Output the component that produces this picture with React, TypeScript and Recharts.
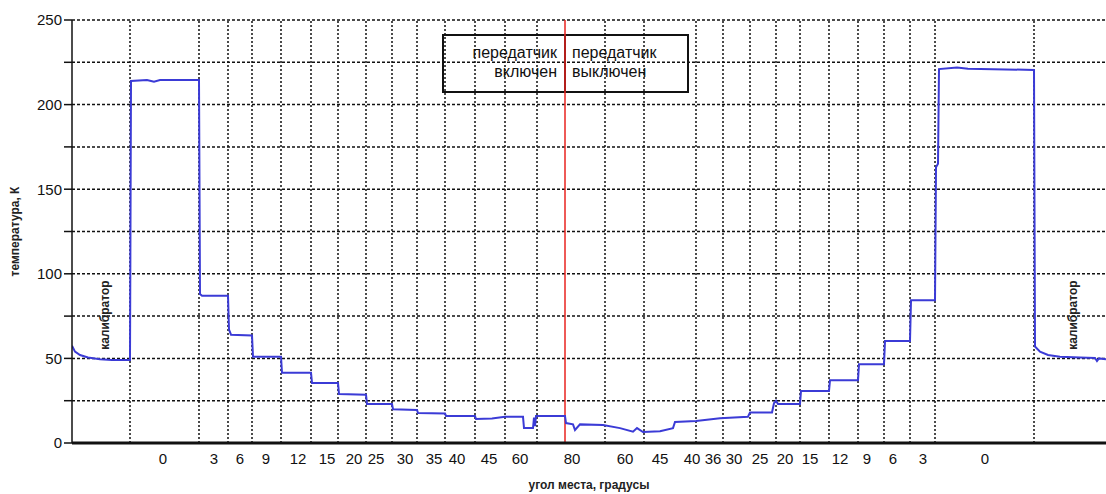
import React from 'react';
import { LineChart, Line, XAxis, YAxis, CartesianGrid, ReferenceLine, ReferenceArea, ReferenceDot } from 'recharts';

// scan position along the record (arbitrary units) and measured brightness temperature, K
const scanPos = [
  0, 3, 8, 16, 28, 40, 58,
  59, 75, 82, 88, 127,
  128, 130, 156,
  157, 159, 180,
  181, 209,
  210, 239,
  240, 266,
  267, 294,
  295, 320,
  321, 345,
  346, 373,
  374, 403,
  404, 420, 433, 451, 452, 461, 462, 463, 464, 493,
  494, 501, 503, 508, 531, 548, 561, 565, 571, 588, 601,
  603, 624, 648, 676,
  678, 700, 702, 704, 706, 728,
  729, 757,
  758, 786,
  787, 812,
  813, 838,
  839, 863,
  864, 866, 867, 885, 896, 962,
  963, 968, 976, 988, 1008, 1023, 1025, 1027, 1034,
];
const temperature = [
  57.5, 54, 52, 50.5, 49.5, 49, 49,
  214, 214.5, 213.5, 214.5, 214.5,
  88, 87, 87,
  67, 64, 63.5,
  51, 51,
  41.5, 41.5,
  35.5, 35.5,
  29, 28.5,
  23, 23,
  20, 19.5,
  17.7, 17.5,
  16, 16,
  14.2, 14.5, 15.5, 15.5, 8.8, 8.8, 15, 10, 16, 16,
  11.8, 11, 7.7, 11, 10.6, 8.8, 6.7, 8.8, 6.5, 7, 8.8,
  12.4, 13, 14.6, 15.5,
  18.1, 18.1, 23.5, 25, 23, 23,
  30.8, 30.8,
  37.1, 37.1,
  46.6, 46.6,
  60.3, 60.3,
  84.3, 84.3,
  163, 165, 221, 221.9, 221.2, 220.5,
  57, 54, 52, 51, 50.5, 50.3, 48.5, 50, 49.5,
];

// elevation angle labels under the axis
const angleTickPos = [91, 142, 168, 194, 226, 255, 282, 304, 333, 362, 385, 417, 448, 500, 553, 588, 620, 641, 662, 688, 713, 738, 768, 795, 821, 851, 913];
const angleTickLabels = ['0', '3', '6', '9', '12', '15', '20', '25', '30', '35', '40', '45', '60', '80', '60', '45', '40', '36', '30', '25', '20', '15', '12', '9', '6', '3', '0'];

// boundaries between antenna positions
const stepBounds = [58, 127, 156, 180, 209, 239, 266, 294, 320, 345, 373, 403, 433, 465, 533, 572, 624, 651, 678, 704, 728, 757, 786, 812, 838, 863, 962];
const switchPos = 493;

const yTicks = [0, 25, 50, 75, 100, 125, 150, 175, 200, 225, 250];

const points = scanPos.map((x, i) => ({ x, t: temperature[i] }));

const FONT = '"Liberation Sans", Arial, sans-serif';

const BoxText = ({ viewBox, lines, align }: any) => {
  const { x, y, width } = viewBox;
  const tx = align === 'end' ? x + width - 8 : x + 7;
  return (
    <g fontFamily={FONT} fontSize={16} fill="#111" textAnchor={align}>
      <text x={tx} y={y + 23}>{lines[0]}</text>
      <text x={tx} y={y + 42}>{lines[1]}</text>
    </g>
  );
};

export default function App() {
  return (
    <div style={{ width: 1106, height: 494, background: '#fff' }}>
      <style>{'body{margin:0}'}</style>
      <LineChart width={1106} height={494} data={points} margin={{ top: 20, right: 0, bottom: 0, left: 0 }}>
        <CartesianGrid vertical={false} stroke="#111" strokeWidth={1.5} strokeDasharray="3 2" />
        <XAxis
          type="number"
          dataKey="x"
          domain={[0, 1034]}
          ticks={angleTickPos}
          interval={0}
          tickFormatter={(v: number, i: number) => angleTickLabels[i]}
          tickLine={false}
          height={51}
          axisLine={{ stroke: '#111', strokeWidth: 3 }}
          tick={{ fontSize: 15, fill: '#111', fontFamily: FONT }}
          tickMargin={4}
          allowDataOverflow
          label={{ value: 'угол места, градусы', position: 'insideBottom', offset: 5, fontSize: 12, fontWeight: 'bold', fill: '#222', fontFamily: FONT }}
        />
        <YAxis
          domain={[0, 250]}
          ticks={yTicks}
          interval={0}
          width={72}
          tickSize={8}
          tickFormatter={(v: number) => (v % 50 === 0 ? String(v) : '')}
          axisLine={{ stroke: '#111', strokeWidth: 1.5 }}
          tickLine={{ stroke: '#111', strokeWidth: 1.5 }}
          tick={{ fontSize: 15, fill: '#111', fontFamily: FONT }}
          label={{
            content: ({ viewBox }: any) => (
              <text
                transform={`translate(${viewBox.x + 19}, ${viewBox.y + viewBox.height / 2}) rotate(-90)`}
                textAnchor="middle"
                fontSize={12}
                fontWeight="bold"
                fill="#222"
                fontFamily={FONT}
              >
                температура, К
              </text>
            ),
          }}
        />
        {stepBounds.map((b) => (
          <ReferenceLine key={b} x={b} stroke="#111" strokeWidth={1.5} strokeDasharray="2 2" />
        ))}
        <ReferenceLine x={switchPos} stroke="#e8231f" strokeWidth={1.5} />
        <ReferenceArea
          x1={371}
          x2={switchPos}
          y1={207.4}
          y2={241.1}
          fill="none"
          stroke="#111"
          strokeWidth={2}
          label={{ content: (p: any) => <BoxText {...p} align="end" lines={['передатчик', 'включен']} /> }}
        />
        <ReferenceArea
          x1={switchPos}
          x2={616}
          y1={207.4}
          y2={241.1}
          fill="none"
          stroke="#111"
          strokeWidth={2}
          label={{ content: (p: any) => <BoxText {...p} align="start" lines={['передатчик', 'выключен']} /> }}
        />
        <ReferenceDot
          x={33}
          y={75.6}
          r={1}
          fill="none"
          stroke="none"
          label={{ value: 'калибратор', position: 'center', angle: -90, fontSize: 12, fontWeight: 'bold', fill: '#222', fontFamily: FONT }}
        />
        <ReferenceDot
          x={1001}
          y={75.6}
          r={1}
          fill="none"
          stroke="none"
          label={{ value: 'калибратор', position: 'center', angle: -90, fontSize: 12, fontWeight: 'bold', fill: '#222', fontFamily: FONT }}
        />
        <Line
          type="linear"
          dataKey="t"
          stroke="#3b3bd6"
          strokeWidth={2}
          dot={false}
          isAnimationActive={false}
        />
      </LineChart>
    </div>
  );
}
